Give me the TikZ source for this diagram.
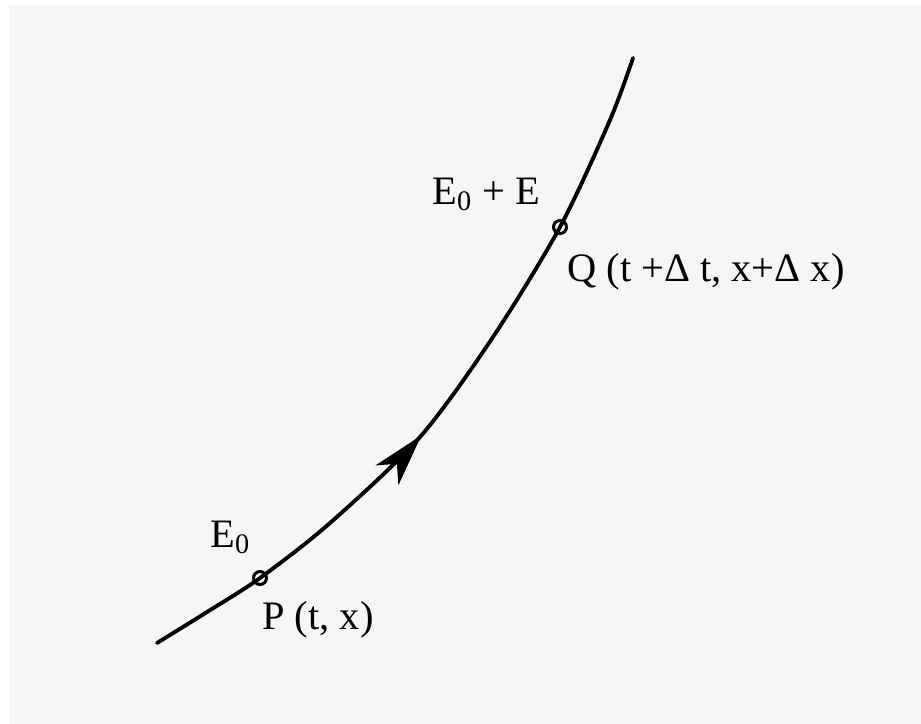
\documentclass[tikz,border=0pt]{standalone}
\usepackage{fontspec}
\setmainfont{Liberation Serif}
\usetikzlibrary{arrows.meta,decorations.markings}
\definecolor{paperbg}{RGB}{246,246,246}

\begin{document}
\begin{tikzpicture}[x=0.02cm,y=-0.02cm,
        worldline/.style={line width=2.2pt,line cap=round,
                    postaction={decorate},
                    decoration={markings,mark=at position 0.437 with
                    {\arrow{Stealth[length=1.05cm,width=0.6cm,inset=0.3cm]}}}},
        event/.style={circle,draw,line width=1.7pt,inner sep=0pt,
                    minimum size=0.26cm},
        lbl/.style={font=\fontsize{23}{27}\selectfont,inner sep=0pt,
                    anchor=base west}
    ]
        % page and grey paper
        \fill[white] (0,0) rectangle (921,724);
        \fill[paperbg] (9,5) rectangle (921,724);
        \useasboundingbox (0,0) rectangle (921,724);
        % world line through the two events
        \draw[worldline] plot[smooth] coordinates {(157,643) (207,612) (260,578)
            (330,523) (420,437) (493,337) (560,227) (610,120) (633,58)};
        \node[event] (P) at (260,578) {};
        \node[event] (Q) at (560,227) {};
        \node[lbl] (eP) at (210,547) {E\textsubscript{0}};
        \node[lbl] (tP) at (262,629) {P (t, x)};
        \node[lbl] (eQ) at (432,204) {E\textsubscript{0} + E};
        \node[lbl] (tQ) at (567,281) {Q (t +Δ t, x+Δ x)};
    \end{tikzpicture}
\end{document}
